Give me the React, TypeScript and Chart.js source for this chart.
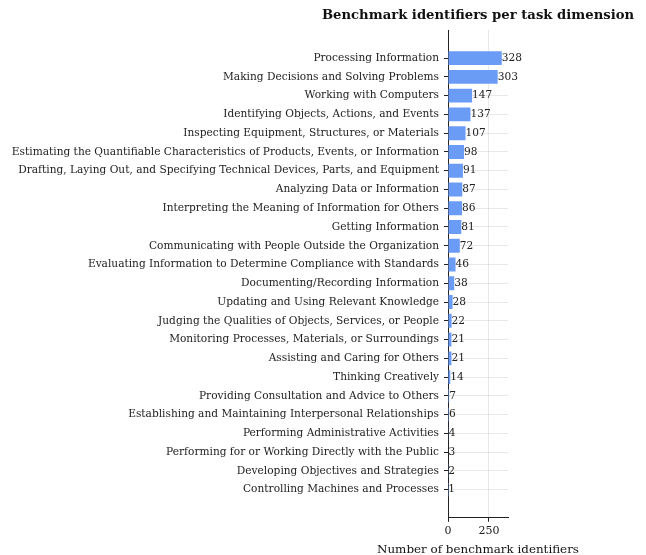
import React, { useEffect, useRef } from "react";
import { Chart, registerables } from "chart.js";

Chart.register(...registerables);

const categories: string[] = [
  "Processing Information",
  "Making Decisions and Solving Problems",
  "Working with Computers",
  "Identifying Objects, Actions, and Events",
  "Inspecting Equipment, Structures, or Materials",
  "Estimating the Quantifiable Characteristics of Products, Events, or Information",
  "Drafting, Laying Out, and Specifying Technical Devices, Parts, and Equipment",
  "Analyzing Data or Information",
  "Interpreting the Meaning of Information for Others",
  "Getting Information",
  "Communicating with People Outside the Organization",
  "Evaluating Information to Determine Compliance with Standards",
  "Documenting/Recording Information",
  "Updating and Using Relevant Knowledge",
  "Judging the Qualities of Objects, Services, or People",
  "Monitoring Processes, Materials, or Surroundings",
  "Assisting and Caring for Others",
  "Thinking Creatively",
  "Providing Consultation and Advice to Others",
  "Establishing and Maintaining Interpersonal Relationships",
  "Performing Administrative Activities",
  "Performing for or Working Directly with the Public",
  "Developing Objectives and Strategies",
  "Controlling Machines and Processes",
];

const counts: number[] = [
  328, 303, 147, 137, 107, 98, 91, 87, 86, 81, 72, 46, 38, 28, 22, 21, 21, 14, 7, 6, 4, 3, 2, 1,
];

const xTicks: number[] = [0, 250];

const TITLE = "Benchmark identifiers per task dimension";
const X_TITLE = "Number of benchmark identifiers";
const FONT = "'DejaVu Serif', serif";

const valueLabels = {
  id: "valueLabels",
  afterDatasetsDraw(chart: any) {
    const ctx = chart.ctx;
    const meta = chart.getDatasetMeta(0);
    ctx.save();
    ctx.font = `10.6px ${FONT}`;
    ctx.fillStyle = "#222";
    ctx.textAlign = "left";
    ctx.textBaseline = "middle";
    meta.data.forEach((el: any, i: number) => {
      ctx.fillText(String(counts[i]), el.x, el.y);
    });
    ctx.restore();
  },
};

const centeredTitles = {
  id: "centeredTitles",
  afterDraw(chart: any) {
    const ctx = chart.ctx;
    const area = chart.chartArea;
    const cx = (area.left + area.right) / 2;
    ctx.save();
    ctx.fillStyle = "#111";
    ctx.textAlign = "center";
    ctx.textBaseline = "middle";
    ctx.font = `bold 13.2px ${FONT}`;
    ctx.fillText(TITLE, cx, 16);
    ctx.font = `11.9px ${FONT}`;
    ctx.fillText(X_TITLE, cx, 550);
    ctx.restore();
  },
};

export default function App() {
  const ref = useRef<HTMLCanvasElement | null>(null);
  useEffect(() => {
    if (!ref.current) return;
    const chart = new Chart(ref.current, {
      type: "bar",
      data: {
        datasets: [
          {
            data: counts.map((v, i) => ({ x: v, y: i })),
            backgroundColor: "#6a9cf5",
            borderWidth: 0,
            barPercentage: 0.74,
            categoryPercentage: 1,
          },
        ],
      },
      plugins: [valueLabels, centeredTitles],
      options: {
        indexAxis: "y",
        responsive: false,
        animation: false,
        layout: { padding: { left: 0, right: 138, top: 30, bottom: 14 } },
        plugins: {
          legend: { display: false },
          tooltip: { enabled: false },
          title: { display: false },
        },
        scales: {
          x: {
            type: "linear",
            min: 0,
            max: 366,
            afterBuildTicks: (scale: any) => {
              scale.ticks = xTicks.map((v) => ({ value: v }));
            },
            ticks: {
              color: "#222",
              font: { family: FONT, size: 11 },
              padding: 3,
            },
            grid: {
              color: "rgba(0,0,0,0.09)",
              tickColor: "#222",
              tickLength: 4,
            },
            border: { display: true, color: "#222", width: 1 },
            title: { display: false },
          },
          y: {
            type: "linear",
            reverse: true,
            min: -1.5,
            max: 24.5,
            offset: false,
            afterBuildTicks: (scale: any) => {
              scale.ticks = categories.map((_, i) => ({ value: i }));
            },
            afterFit: (scale: any) => {
              scale.width = 448;
            },
            ticks: {
              color: "#222",
              font: { family: FONT, size: 10.6 },
              padding: 5,
              callback: (v: any) => categories[v as number] ?? "",
            },
            grid: {
              offset: false,
              color: "rgba(0,0,0,0.09)",
              tickColor: "#222",
              tickLength: 4,
            },
            border: { display: true, color: "#222", width: 1 },
          },
        },
      },
    });
    return () => chart.destroy();
  }, []);
  return (
    <div style={{ position: "fixed", left: 0, top: 0, width: 646, height: 555, background: "#fff" }}>
      <canvas ref={ref} width={646} height={555} />
    </div>
  );
}
